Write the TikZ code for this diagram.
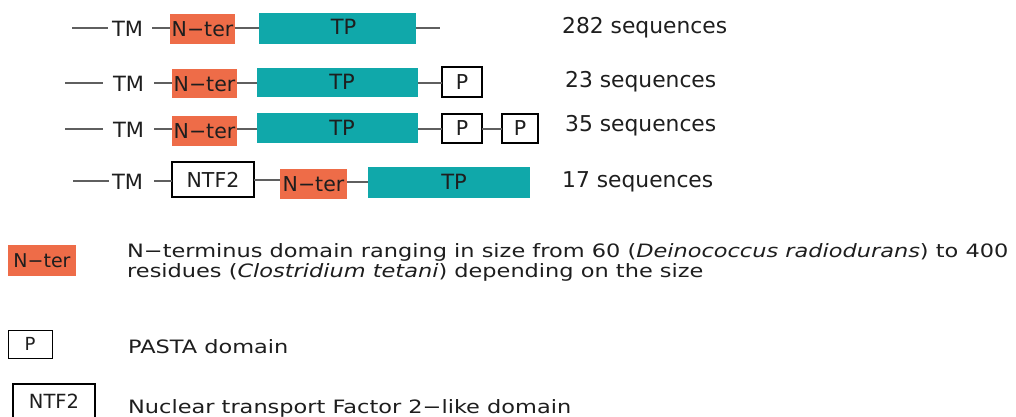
\documentclass[tikz,border=0pt]{standalone}
\usepackage{fontspec}
\setmainfont{DejaVu Sans}
\newfontfamily\legfont{DejaVu Sans}[FakeStretch=1.22]
\definecolor{nterc}{RGB}{238,108,72}
\definecolor{tpc}{RGB}{16,168,170}
\definecolor{linec}{RGB}{95,95,95}
\definecolor{txtc}{RGB}{30,30,30}
\newcommand{\mdash}{\char"2212\relax}
\begin{document}
\begin{tikzpicture}[x=1pt,y=-1pt,
  every node/.style={text=txtc,font=\fontsize{20.5}{22}\selectfont},
  box/.style={rectangle,inner sep=0pt,outer sep=0pt,anchor=center},
  nter/.style={box,fill=nterc},
  tp/.style={box,fill=tpc},
  tplabel/.style={text=txtc,inner sep=0pt,font=\fontsize{21}{22}\selectfont},
  pbox/.style={box,draw=black,line width=1.4pt,fill=white},
  tm/.style={inner sep=0pt,outer sep=0pt,font=\fontsize{21}{22}\selectfont},
  seq/.style={anchor=west,inner sep=0pt,font=\fontsize{21.8}{24}\selectfont},
  conn/.style={draw=linec,line width=2pt},
  legtxt/.style={anchor=west,inner sep=0pt,align=left,font=\legfont\fontsize{18.4}{19.5}\selectfont}]
\useasboundingbox (0,0) rectangle (1016,417);
\fill[white] (0,0) rectangle (1016,417);

% Row 1
\node[tm] (tm1) at (127.5,29) {TM};
\node[nter,minimum width=65pt,minimum height=30pt] (n1) at (202.5,29) {N\mdash ter};
\node[tp,minimum width=157pt,minimum height=31pt] (t1) at (337.5,28.5) {};
\node[tplabel] (t1l) at (343.5,27) {TP};
\coordinate (c1a) at (72,28);
\coordinate (c1b) at (152,28);
\coordinate (c1c) at (440,28);
\draw[conn] (c1a) -- (108,28);
\draw[conn] (c1b) -- (c1b -| n1.west);
\draw[conn] (n1.east |- c1b) -- (c1b -| t1.west);
\draw[conn] (t1.east |- c1c) -- (c1c);
\node[seq] (s1) at (562,28) {282 sequences};

% Row 2
\node[tm] (tm2) at (128.5,84) {TM};
\node[nter,minimum width=65pt,minimum height=29pt] (n2) at (204.5,84) {N\mdash ter};
\node[tp,minimum width=161pt,minimum height=29pt] (t2) at (337.5,82.5) {};
\node[tplabel] (t2l) at (342,82) {TP};
\node[pbox,minimum width=40pt,minimum height=30pt] (p2) at (462,82) {P};
\coordinate (c2a) at (65,83);
\coordinate (c2b) at (154,83);
\draw[conn] (c2a) -- (103,83);
\draw[conn] (c2b) -- (c2b -| n2.west);
\draw[conn] (n2.east |- c2b) -- (c2b -| t2.west);
\draw[conn] (t2.east |- c2b) -- (c2b -| p2.west);
\node[seq] (s2) at (565,82) {23 sequences};

% Row 3
\node[tm] (tm3) at (128.5,130) {TM};
\node[nter,minimum width=65pt,minimum height=30pt] (n3) at (204.5,131) {N\mdash ter};
\node[tp,minimum width=161pt,minimum height=30pt] (t3) at (337.5,128) {};
\node[tplabel] (t3l) at (342,128) {TP};
\node[pbox,minimum width=40pt,minimum height=29pt] (p3a) at (462,128.5) {P};
\node[pbox,minimum width=36pt,minimum height=29pt] (p3b) at (520,128.5) {P};
\coordinate (c3a) at (65,129);
\coordinate (c3b) at (154,129);
\draw[conn] (c3a) -- (103,129);
\draw[conn] (c3b) -- (c3b -| n3.west);
\draw[conn] (n3.east |- c3b) -- (c3b -| t3.west);
\draw[conn] (t3.east |- c3b) -- (c3b -| p3a.west);
\draw[conn] (p3a.east |- c3b) -- (c3b -| p3b.west);
\node[seq] (s3) at (565,126) {35 sequences};

% Row 4
\node[tm] (tm4) at (127.5,182) {TM};
\node[pbox,minimum width=82pt,minimum height=35pt] (f4) at (213,179.5) {NTF2};
\node[nter,minimum width=67pt,minimum height=30pt] (n4) at (313.5,184) {N\mdash ter};
\node[tp,minimum width=162pt,minimum height=31pt] (t4) at (449,182.5) {};
\node[tplabel] (t4l) at (454,182) {TP};
\coordinate (c4a) at (73,181);
\coordinate (c4b) at (154,181);
\draw[conn] (c4a) -- (109,181);
\draw[conn] (c4b) -- (c4b -| f4.west);
\draw[conn] (f4.east |- 0,180) -- (n4.west |- 0,180);
\draw[conn] (n4.east |- 0,182) -- (t4.west |- 0,182);
\node[seq] (s4) at (562,182) {17 sequences};

% Legend
\node[nter,minimum width=68pt,minimum height=31pt,font=\fontsize{19}{20}\selectfont] (ln) at (42,260.5) {N\mdash ter};
\node[legtxt] (lnt) at (127,262.5) {N\mdash terminus domain ranging in size from 60 (\textit{Deinococcus radiodurans}) to 400\\residues (\textit{Clostridium tetani}) depending on the size};
\node[pbox,minimum width=44pt,minimum height=28pt,line width=1pt,font=\fontsize{18}{20}\selectfont] (lp) at (30,344) {P};
\node[legtxt] (lpt) at (128,347) {PASTA domain};
\node[pbox,minimum width=82pt,minimum height=35pt,line width=1.2pt,font=\fontsize{19.5}{20}\selectfont] (lf) at (54,401.5) {NTF2};
\node[legtxt] (lft) at (128,408) {Nuclear transport Factor 2\mdash like domain};
\end{tikzpicture}
\end{document}
